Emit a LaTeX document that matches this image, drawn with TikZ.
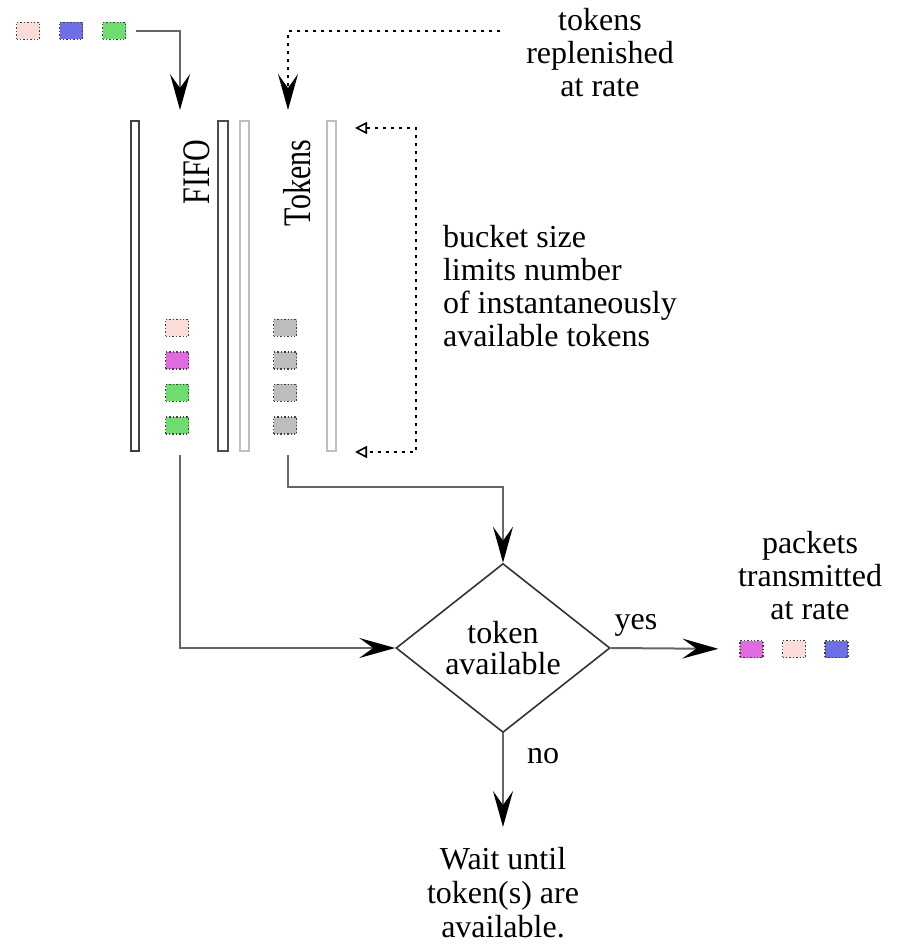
\documentclass[tikz,border=0pt]{standalone}
\usepackage{fontspec}
\setmainfont{Liberation Serif}
\usetikzlibrary{arrows.meta,shapes.geometric}
\definecolor{pktpink}{HTML}{FCDCD8}
\definecolor{pktblue}{HTML}{6E6EE6}
\definecolor{pktgreen}{HTML}{6FDC6F}
\definecolor{pktmag}{HTML}{E06AE0}
\definecolor{pktgray}{HTML}{BDBDBD}
\begin{document}
\begin{tikzpicture}[x=0.5pt,y=-0.5pt,
  every node/.style={font=\rmfamily\fontsize{16}{16.5}\selectfont},
  pkt/.style={draw=black!75, densely dotted, line width=0.7pt, minimum width=11.5pt, minimum height=8.5pt, inner sep=0pt},
  bar/.style={draw=#1, line width=1pt, fill=white},
  flow/.style={draw=black!60, line width=1pt, -{Stealth[length=18pt,width=10pt,inset=7pt,black]}},
  lbl/.style={align=center},
  vlbl/.style={rotate=90, font=\rmfamily\fontsize{15}{16}\selectfont}]
\useasboundingbox (0,0) rectangle (896,945);

\foreach \c [count=\i] in {pktpink,pktblue,pktgreen}
  \node[pkt,fill=\c] (in\i) at ({-15+43*\i},31) {};

\draw[bar=black!75] (131,121) rectangle (139,451);
\draw[bar=black!70, line width=1.3pt] (218,121) rectangle (228,451);
\draw[bar=black!25] (240,121) rectangle (249,451);
\draw[bar=black!25] (327,121) rectangle (336,451);

\node[vlbl] (fifolbl) at (197,172) {\scalebox{1}[1.3]{FIFO}};
\node[vlbl] (toklbl) at (297,183) {\scalebox{1}[1.3]{Tokens}};

\foreach \c [count=\i] in {pktpink,pktmag,pktgreen,pktgreen}
  \node[pkt,fill=\c] (q\i) at (177,{295.5+32.5*\i}) {};
\foreach \i in {1,...,4}
  \node[pkt,fill=pktgray] (t\i) at (285,{295.5+32.5*\i}) {};

\node[lbl] (refill) at (600,53) {tokens\\replenished\\at rate};
\node[align=left, anchor=west] (bucket) at (436,286) {bucket size\\limits number\\of instantaneously\\available tokens};
\node[lbl] (sent) at (810,576) {packets\\transmitted\\at rate};
\node[lbl, font=\rmfamily\fontsize{16}{17}\selectfont] (wait) at (503,893) {Wait until\\token(s) are\\available.};

\node[diamond, draw=black!80, line width=0.8pt, minimum width=107pt, minimum height=80pt, inner sep=0pt, align=center, font=\rmfamily\fontsize{16}{15.5}\selectfont] (test) at (503,648) {token\\available};
\node (yes) at (636,625) {yes};
\node (no) at (543,756) {no};

\foreach \c [count=\i] in {pktmag,pktpink,pktblue}
  \node[pkt,fill=\c] (out\i) at ({709+42.5*\i},649) {};

\coordinate (fifoin) at (180,110);
\coordinate (tokin) at (288,110);
\coordinate (refillend) at (500,31);
\coordinate (fifoout) at (180,455);
\coordinate (tokout) at (288,455);
\coordinate (waittip) at (503,827);
\coordinate (bktop) at (355,128);
\coordinate (bkbot) at (355,452);

\draw[flow, shorten <=5pt] (in3.east) -| (fifoin);
\draw[flow, draw=black, dash pattern=on 1.5pt off 2.5pt] (refillend) -| (tokin);
\draw[flow] (fifoout) |- (test.west);
\draw[flow] (tokout) -- ++(0,32) -| (test.north);
\draw[flow, shorten >=10.5pt] (test.east) -- (out1.west);
\draw[flow] (test.south) -- (waittip);
\draw[dash pattern=on 1.5pt off 2.5pt, line width=0.8pt, {Triangle[open,length=6pt,width=6pt]}-{Triangle[open,length=6pt,width=6pt]}] (bktop) -- ++(61,0) |- (bkbot);
\end{tikzpicture}
\end{document}
